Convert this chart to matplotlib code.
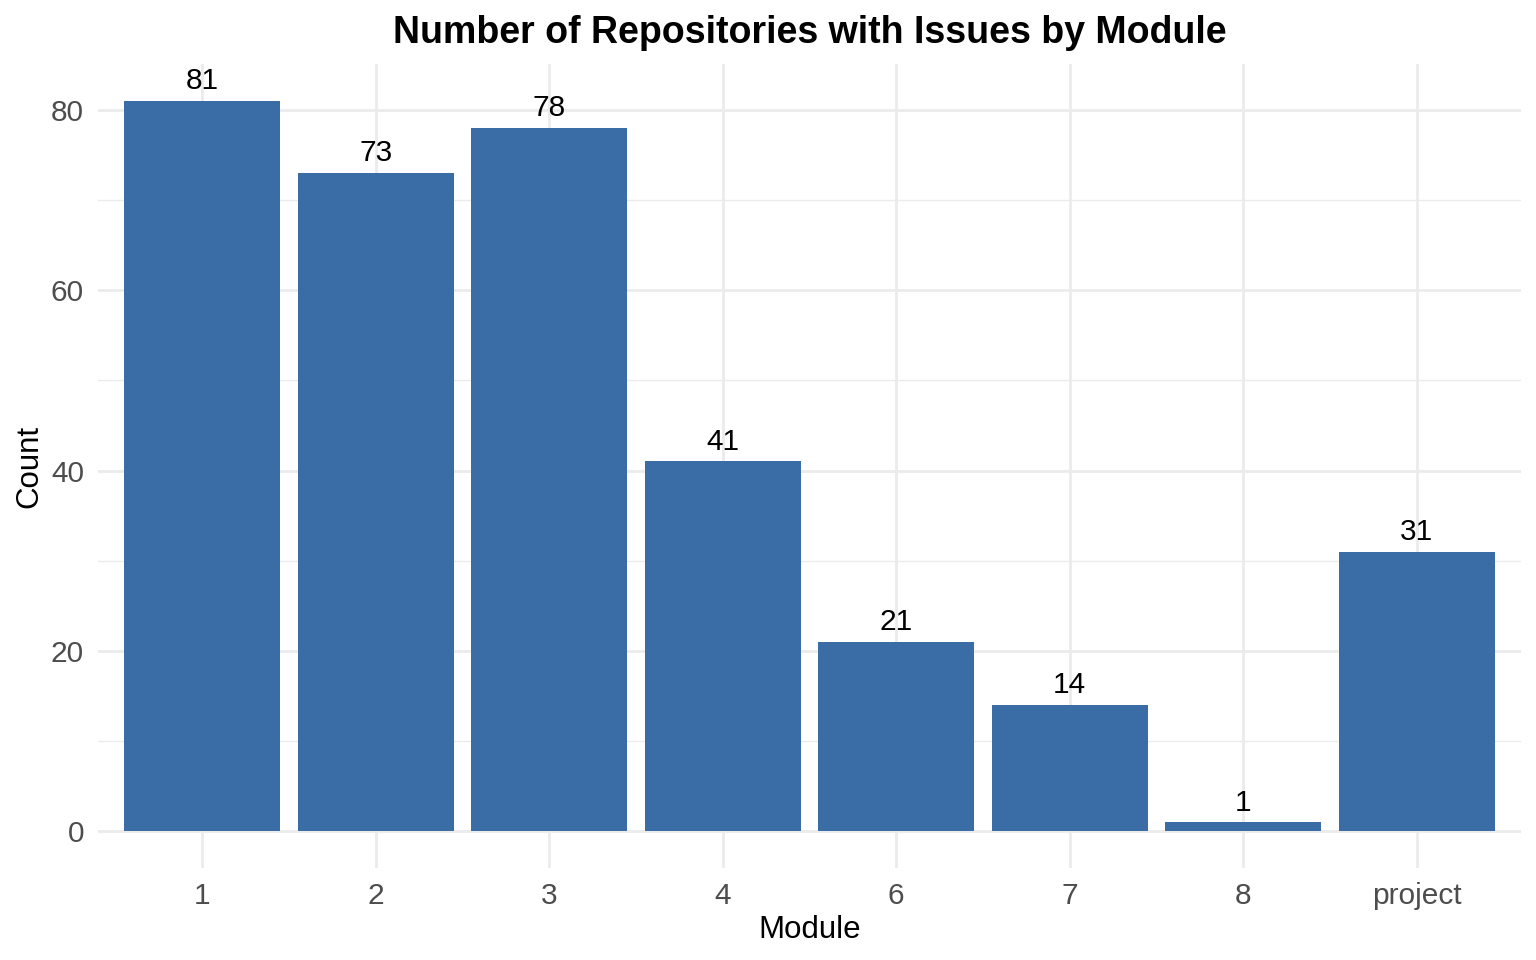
import numpy as np
import matplotlib
matplotlib.use('Agg')
import matplotlib.pyplot as plt
from matplotlib.ticker import MultipleLocator

plt.rcParams['font.family'] = ['Liberation Sans', 'DejaVu Sans']

modules = ['1', '2', '3', '4', '6', '7', '8', 'project']
counts = [81, 73, 78, 41, 21, 14, 1, 31]

bar_color = '#3A6DA5'
grid_color = '#EBEBEB'
txt_gray = '#4D4D4D'

fig = plt.figure(figsize=(15.36, 9.6), dpi=100)
ax = fig.add_axes([98/1536, 1 - 868/960, (1521 - 98)/1536, (868 - 64)/960])

x = np.arange(len(modules))
ax.bar(x, counts, width=0.9, color=bar_color, zorder=3)

for xi, c in zip(x, counts):
    ax.annotate(str(c), (xi, c), xytext=(0, 8.5), textcoords='offset points',
                ha='center', va='baseline', fontsize=21.5, color='black', zorder=4)

ax.set_xlim(-0.6, len(modules) - 0.4)
ax.set_ylim(-81 * 0.05, 81 * 1.05)

ax.set_xticks(x)
ax.set_xticklabels(modules)
ax.yaxis.set_major_locator(MultipleLocator(20))
ax.yaxis.set_minor_locator(MultipleLocator(10))

ax.grid(which='major', axis='both', color=grid_color, linewidth=2.0, zorder=0)
ax.grid(which='minor', axis='y', color=grid_color, linewidth=1.0, zorder=0)
ax.set_axisbelow(True)

for s in ax.spines.values():
    s.set_visible(False)
ax.tick_params(which='both', length=0, labelsize=21.5, labelcolor=txt_gray)
ax.tick_params(axis='x', pad=10)
ax.tick_params(axis='y', pad=10)

ax.set_xlabel('Module', fontsize=22.5, labelpad=4)
ax.set_ylabel('Count', fontsize=22.5, labelpad=5)
ax.set_title('Number of Repositories with Issues by Module', fontsize=27,
             fontweight='bold', pad=15)

fig.savefig('out.png', dpi=100, facecolor='white')
